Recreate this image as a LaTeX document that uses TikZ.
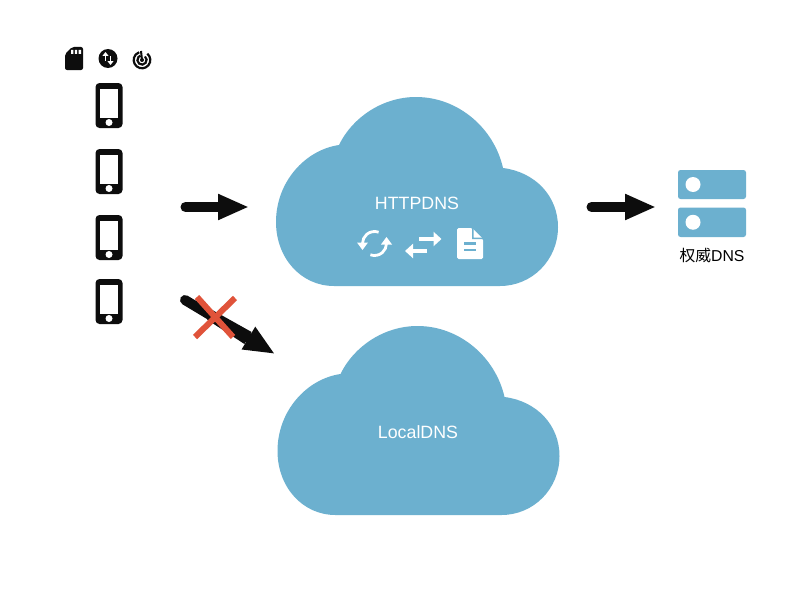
\documentclass[tikz,border=0pt]{standalone}
\usepackage{fontspec}
\setmainfont{Liberation Sans}
\newfontfamily\cjkfont{Noto Sans CJK SC}
\usetikzlibrary{arrows.meta}
\definecolor{cloudblue}{HTML}{6CB0CF}
\definecolor{crossred}{HTML}{E0533A}
\definecolor{inkblack}{HTML}{0D0D0D}
\tikzset{
  cloudfill/.style={fill=cloudblue},
  label text/.style={text=white,font=\fontsize{17.8}{20}\selectfont,inner sep=0pt},
  bigarrow/.style={draw=inkblack,line width=10pt,line cap=round,-{Triangle[length=31pt,width=24pt]}},
  phonebody/.style={fill=inkblack,rounded corners=4pt},
  whitepart/.style={fill=white},
  crossline/.style={draw=crossred,line width=6pt},
  syncline/.style={draw=white,line width=2.8pt},
  swapline/.style={draw=white,line width=3.6pt,-{Triangle[length=8pt,width=14pt]}},
  tinyarrow/.style={draw=white,line width=1.6pt,-{Triangle[length=4pt,width=6pt]}},
  radarline/.style={draw=inkblack,line width=2.2pt},
}
\newcommand{\cloudpath}[2]{%
  \fill[cloudfill,shift={(#1,#2)}] (334,286)
    .. controls (301,286) and (276,258) .. (276,222)
    .. controls (276,182) and (305,150) .. (339,145)
    .. controls (352,118) and (382,97) .. (416,97)
    .. controls (458,97) and (494,128) .. (503,168)
    .. controls (535,172) and (558,196) .. (558,227)
    .. controls (558,260) and (532,286) .. (500,286) -- cycle;}
\newcommand{\phoneicon}[2]{%
  \begin{scope}[shift={(#1,#2)}]
    \fill[phonebody] (-13.5,-22.5) rectangle (13.5,22.5);
    \fill[whitepart] (-9,-17) rectangle (9,12);
    \fill[whitepart] (0,17) circle (3.5);
  \end{scope}}
\newcommand{\servericon}[2]{%
  \fill[cloudblue,rounded corners=2.5pt] (678,#1) rectangle (746,#2);
  \fill[whitepart] (693,{(#1+#2)/2}) circle (7.5);}
\begin{document}
\begin{tikzpicture}[x=1pt,y=-1pt]
\useasboundingbox (0,0) rectangle (802,602);
\fill[white] (0,0) rectangle (802,602);
% clouds
\cloudpath{0}{0}
\cloudpath{1.5}{229}
\node[label text] (httpdns) at (417,203) {HTTPDNS};
\node[label text] (localdns) at (418,432) {LocalDNS};
% status icons
\fill[inkblack,rounded corners=2pt] (65,54) -- (72,47) -- (83,47) -- (83,70) -- (65,70) -- cycle;
\fill[white] (71,50) rectangle (73.4,54) (74.8,50) rectangle (77.2,54) (78.6,50) rectangle (81,54);
\fill[inkblack] (108,58.5) circle (9.5);
\draw[tinyarrow] (105.5,60.5) -- (105.5,52);
\draw[tinyarrow] (110.5,56.5) -- (110.5,65);
\draw[radarline] (142,60) ++(-50:8.3) arc[start angle=-50,end angle=250,radius=8.3];
\draw[radarline] (142,60) ++(-50:4.6) arc[start angle=-50,end angle=250,radius=4.6];
\fill[inkblack] (142,60) circle (2);
\draw[inkblack,line width=2pt] (142,60) -- (141,51);
% phones
\phoneicon{109}{105.5}
\phoneicon{109}{171.5}
\phoneicon{109}{237.5}
\phoneicon{109}{301.5}
% main connectors
\coordinate (a1) at (185.5,207);
\coordinate (a2) at (249,207);
\coordinate (b1) at (591.5,207);
\coordinate (b2) at (656,207);
\coordinate (c1) at (185,300);
\coordinate (c2) at (275,354);
\draw[bigarrow] (a1) -- (a2);
\draw[bigarrow] (b1) -- (b2);
\draw[bigarrow,line width=10pt] (c1) -- (c2);
\fill[inkblack] (212.8,310.3) -- (251.6,332) -- (244.4,344) -- (207.2,319.7) -- cycle;
\draw[crossline] (197,297) -- (233,337);
\draw[crossline] (235,298) -- (195,337);
% sync icon
\draw[syncline] (374.5,243.5) ++(-70:12) arc[start angle=-70,end angle=-180,radius=12];
\fill[white] (357,242.5) -- (368,242.5) -- (362.5,250) -- cycle;
\draw[syncline] (374.5,243.5) ++(110:12) arc[start angle=110,end angle=0,radius=12];
\fill[white] (381,244.5) -- (392,244.5) -- (386.5,237) -- cycle;
% exchange icon
\draw[swapline] (419,239) -- (441.5,239);
\draw[swapline] (427,251) -- (405,251);
% document icon
\fill[white,rounded corners=1.5pt] (457,228) -- (472,228) -- (483,239) -- (483,259) -- (457,259) -- cycle;
\fill[cloudblue] (472,228) -- (472,239) -- (483,239) -- (483,237.5) -- (473.5,237.5) -- (473.5,228) -- cycle;
\draw[cloudblue,line width=2.6pt] (464,243.5) -- (476,243.5) (464,250) -- (476,250);
% servers
\servericon{170}{199}
\servericon{207.5}{237}
\node[inner sep=0pt,font=\fontsize{15.8}{18}\selectfont] (auth) at (712,255.5) {{\cjkfont 权威}DNS};
\end{tikzpicture}
\end{document}
